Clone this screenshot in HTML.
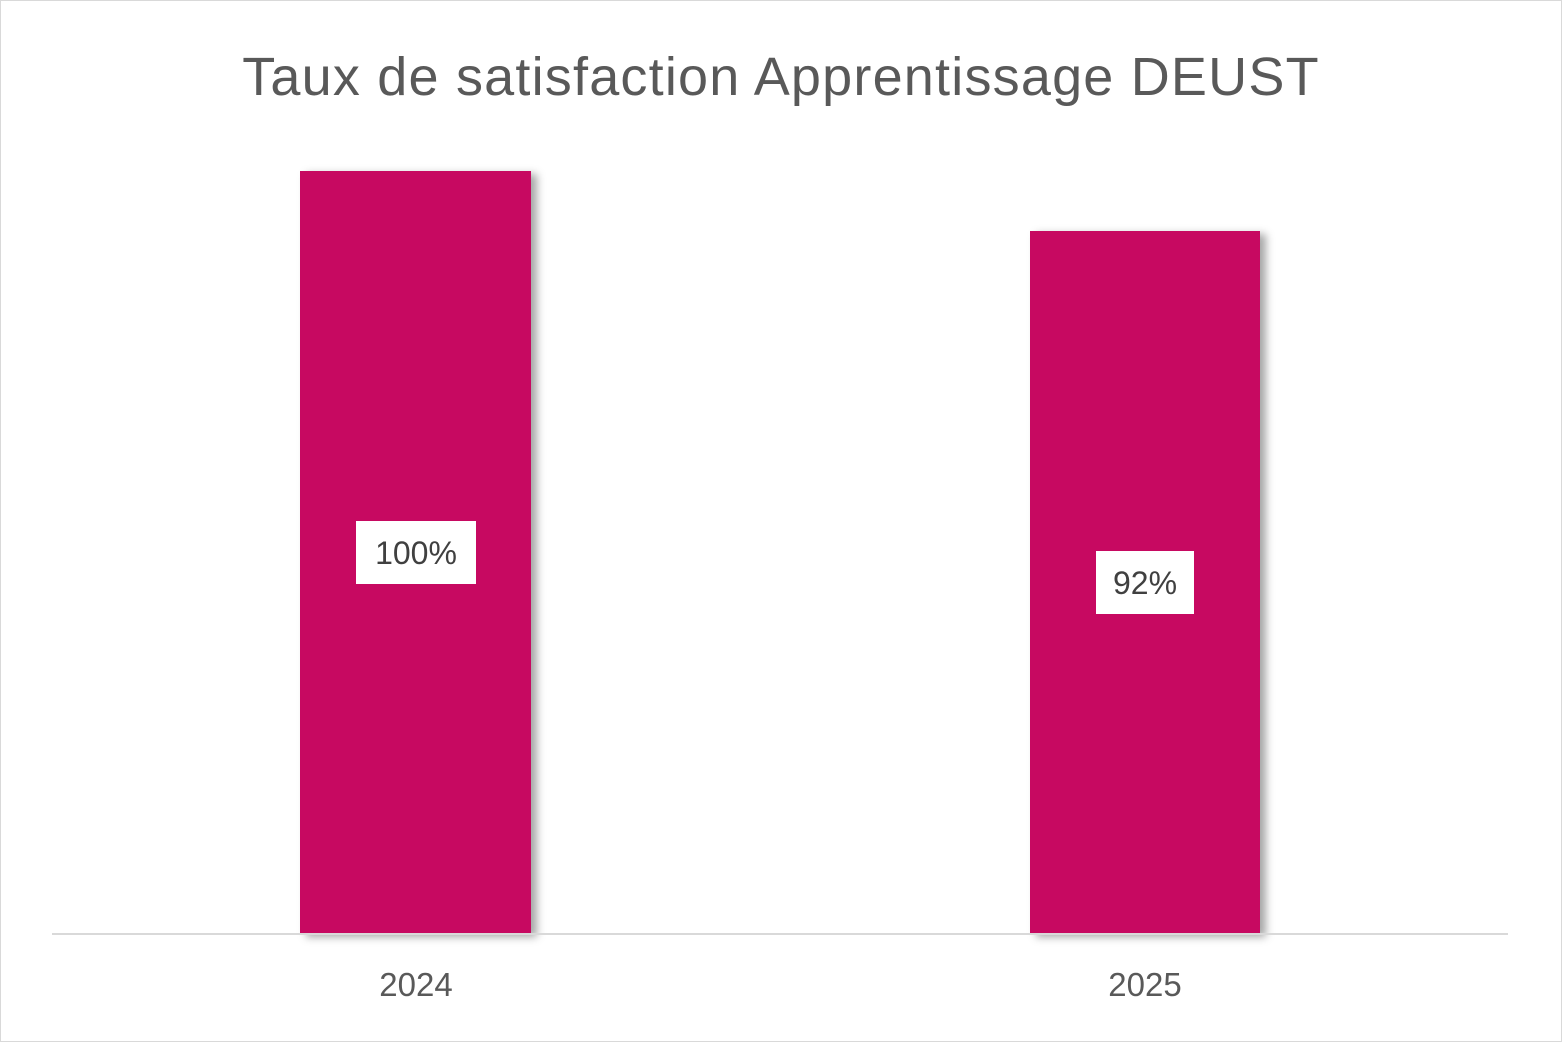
<!DOCTYPE html>
<html><head><meta charset="utf-8"><style>
body{margin:0;width:1562px;height:1042px;background:#fff;position:relative;overflow:hidden;font-family:"Liberation Sans",sans-serif;color:#595959}
.frame{position:absolute;left:0;top:0;width:1560px;height:1040px;border:1px solid #d9d9d9}
.title{position:absolute;left:0;width:1562px;top:39px;text-align:center;font-size:54px;line-height:76px;letter-spacing:1.2px}
.bar{position:absolute;background:#c70961;box-shadow:6px 3px 8px rgba(0,0,0,0.35)}
.axis{position:absolute;left:52px;top:933px;width:1456px;height:2px;background:#d9d9d9}
.lbl{position:absolute;background:#fff;font-size:32px;text-align:center;color:#404040}
.x{position:absolute;top:966px;font-size:33px;width:200px;text-align:center}
</style></head><body>
<div class="frame"></div>
<div class="title">Taux de satisfaction Apprentissage DEUST</div>
<div class="bar" style="left:300px;top:171px;width:231px;height:763px"></div>
<div class="bar" style="left:1030px;top:231px;width:230px;height:703px"></div>
<div class="axis"></div>
<div class="lbl" style="left:356px;top:521px;width:120px;height:63px;line-height:65px">100%</div>
<div class="lbl" style="left:1096px;top:551px;width:98px;height:63px;line-height:65px">92%</div>
<div class="x" style="left:316px">2024</div>
<div class="x" style="left:1045px">2025</div>
</body></html>
